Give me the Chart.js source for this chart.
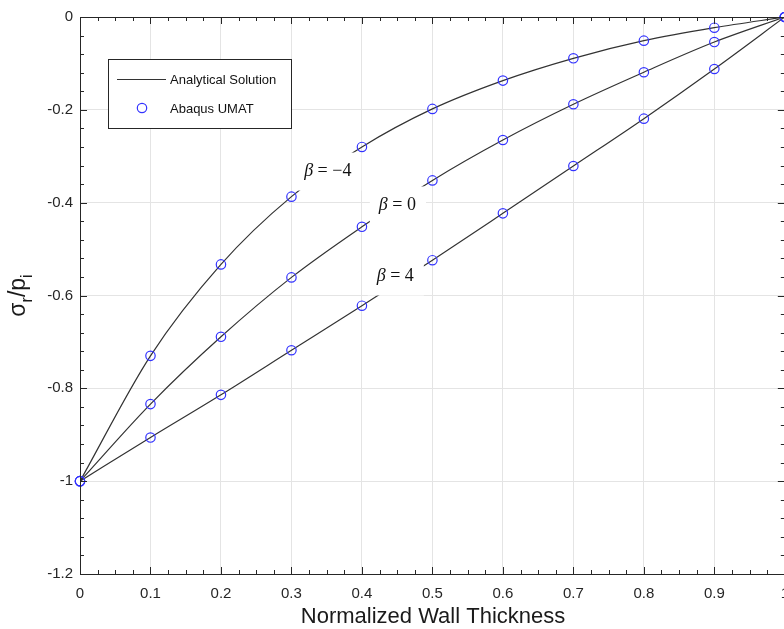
<!DOCTYPE html>
<html>
<head>
<meta charset="utf-8">
<script src="https://cdn.jsdelivr.net/npm/chart.js@4/dist/chart.umd.min.js"></script>
<style>
  html, body { margin:0; padding:0; background:#fff; overflow:hidden; }
  #wrap { width:800px; height:629px; position:relative; }
</style>
</head>
<body>
<div id="wrap"><canvas id="chart"></canvas></div>
<script>
// normalized wall thickness and sigma_r/p_i for the three beta values
const xValues = [0, 0.1, 0.2, 0.3, 0.4, 0.5, 0.6, 0.7, 0.8, 0.9, 1];
const betaMinus4 = [-1, -0.730, -0.533, -0.387, -0.280, -0.198, -0.137, -0.089, -0.051, -0.023, 0];
const betaZero   = [-1, -0.834, -0.689, -0.561, -0.452, -0.352, -0.265, -0.188, -0.119, -0.054, 0];
const betaPlus4  = [-1, -0.906, -0.814, -0.718, -0.622, -0.524, -0.423, -0.321, -0.219, -0.112, 0];

const curveLabels = ['−4', '0', '4'];
const labelAnchors = [[0.318, -0.333], [0.424, -0.406], [0.421, -0.559]];

const legendLabels = ['Analytical Solution', 'Abaqus UMAT'];
const xTitle = 'Normalized Wall Thickness';

const LINE_COLOR = '#333333';
const MARK_COLOR = '#3333ff';
const AXIS_COLOR = '#262626';
const SANS = '"Liberation Sans", Arial, sans-serif';
const SERIF = '"Liberation Serif", "Times New Roman", serif';

const toPts = ys => ys.map((y, i) => ({ x: xValues[i], y }));
const series = [betaMinus4, betaZero, betaPlus4];

const datasets = [];
series.forEach(s => {
  datasets.push({
    data: toPts(s), showLine: true, borderColor: LINE_COLOR, borderWidth: 1.2,
    pointRadius: 0, cubicInterpolationMode: 'monotone', fill: false, order: 2
  });
});
series.forEach(s => {
  datasets.push({
    data: toPts(s), showLine: false, pointRadius: 4.7, pointHoverRadius: 4.7,
    pointBorderColor: MARK_COLOR, pointBackgroundColor: 'rgba(0,0,0,0)',
    pointBorderWidth: 1.2, clip: false, order: 1
  });
});

const decorPlugin = {
  id: 'decor',
  afterDatasetsDraw(chart){
    const ctx = chart.ctx, xs = chart.scales.x, ys = chart.scales.y;
    // beta labels with white backgrounds
    labelAnchors.forEach((a, i) => {
      const px = xs.getPixelForValue(a[0]), py = ys.getPixelForValue(a[1]);
      ctx.save();
      ctx.font = 'italic 18px ' + SERIF;
      const wb = ctx.measureText('β').width;
      ctx.font = '18px ' + SERIF;
      const rest = ' = ' + curveLabels[i];
      const wr = ctx.measureText(rest).width;
      ctx.fillStyle = '#fff';
      ctx.fillRect(px - 9, py - 19, wb + wr + 19, 38);
      ctx.fillStyle = '#111';
      ctx.textBaseline = 'middle';
      ctx.font = 'italic 18px ' + SERIF;
      ctx.fillText('β', px, py);
      ctx.font = '18px ' + SERIF;
      ctx.fillText(rest, px + wb, py);
      ctx.restore();
    });
    // legend box
    ctx.save();
    ctx.fillStyle = '#fff';
    ctx.fillRect(108.5, 59.5, 183, 69);
    ctx.strokeStyle = AXIS_COLOR;
    ctx.lineWidth = 1;
    ctx.strokeRect(108.5, 59.5, 183, 69);
    ctx.strokeStyle = LINE_COLOR;
    ctx.lineWidth = 1.2;
    ctx.beginPath(); ctx.moveTo(117, 79.5); ctx.lineTo(166, 79.5); ctx.stroke();
    ctx.strokeStyle = MARK_COLOR;
    ctx.lineWidth = 1.2;
    ctx.beginPath(); ctx.arc(142, 108, 4.7, 0, Math.PI * 2); ctx.stroke();
    ctx.fillStyle = '#111';
    ctx.font = '13px ' + SANS;
    ctx.textBaseline = 'middle';
    ctx.fillText(legendLabels[0], 170, 80);
    ctx.fillText(legendLabels[1], 170, 109);
    ctx.restore();
  },
  afterDraw(chart){
    const ctx = chart.ctx, xs = chart.scales.x, ys = chart.scales.y;
    const a = chart.chartArea;
    ctx.save();
    ctx.strokeStyle = AXIS_COLOR;
    ctx.lineWidth = 1;
    ctx.strokeRect(Math.round(a.left) + 0.5, Math.round(a.top) + 0.5,
      Math.round(a.right - a.left), Math.round(a.bottom - a.top));
    ctx.beginPath();
    for (let i = 0; i <= 40; i++) {
      const p = Math.round(xs.getPixelForValue(i * 0.025)) + 0.5;
      const len = i % 4 === 0 ? 7 : 4;
      ctx.moveTo(p, a.bottom); ctx.lineTo(p, a.bottom - len);
      ctx.moveTo(p, a.top); ctx.lineTo(p, a.top + len);
    }
    for (let i = 0; i <= 30; i++) {
      const p = Math.round(ys.getPixelForValue(-i * 0.04)) + 0.5;
      const len = i % 5 === 0 ? 7 : 4;
      ctx.moveTo(a.left, p); ctx.lineTo(a.left + len, p);
      ctx.moveTo(a.right, p); ctx.lineTo(a.right - len, p);
    }
    ctx.stroke();
    // axis titles
    ctx.fillStyle = '#1a1a1a';
    ctx.font = '22px ' + SANS;
    ctx.textAlign = 'center';
    ctx.textBaseline = 'middle';
    ctx.fillText(xTitle, 433, 617);
    ctx.translate(25, (a.top + a.bottom) / 2);
    ctx.rotate(-Math.PI / 2);
    ctx.textAlign = 'left';
    ctx.textBaseline = 'alphabetic';
    const big = '23px ' + SANS, small = '16px ' + SANS;
    const parts = [['σ', big, 0], ['r', small, 7], ['/p', big, 0], ['i', small, 7]];
    let w = 0;
    parts.forEach(p => { ctx.font = p[1]; w += ctx.measureText(p[0]).width; });
    let cx = -w / 2;
    parts.forEach(p => { ctx.font = p[1]; ctx.fillText(p[0], cx, p[2]); cx += ctx.measureText(p[0]).width; });
    ctx.restore();
  }
};

new Chart(document.getElementById('chart'), {
  type: 'scatter',
  data: { datasets },
  plugins: [decorPlugin],
  options: {
    responsive: true,
    maintainAspectRatio: false,
    animation: false,
    events: [],
    layout: { padding: { left: 0, top: 17, right: 13, bottom: 0 } },
    plugins: { legend: { display: false }, tooltip: { enabled: false } },
    scales: {
      x: {
        type: 'linear', min: 0, max: 1,
        afterFit: s => { s.height = 55; },
        grid: { color: '#e4e4e4', drawTicks: false },
        border: { color: AXIS_COLOR },
        ticks: { stepSize: 0.1, padding: 11, color: '#262626', maxRotation: 0,
          font: { family: SANS, size: 15 },
          callback: v => String(Number(v.toFixed(1))) }
      },
      y: {
        type: 'linear', min: -1.2, max: 0,
        afterFit: s => { s.width = 80; },
        grid: { color: '#e4e4e4', drawTicks: false },
        border: { color: AXIS_COLOR },
        ticks: { stepSize: 0.2, padding: 7, color: '#262626',
          font: { family: SANS, size: 15 },
          callback: v => String(Number(v.toFixed(1))) }
      }
    }
  }
});
</script>
</body>
</html>
